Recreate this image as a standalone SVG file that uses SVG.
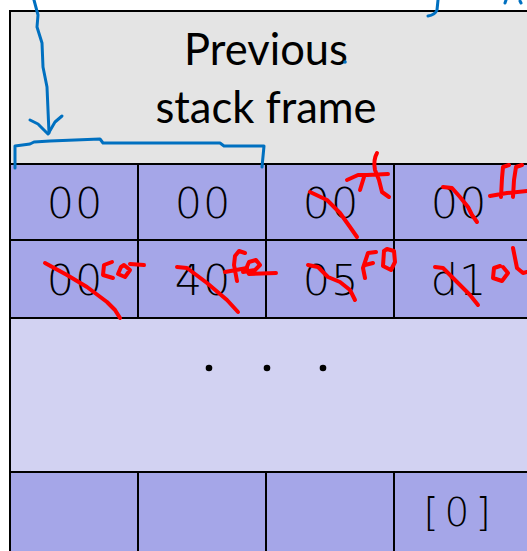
<svg xmlns="http://www.w3.org/2000/svg" width="527" height="551" viewBox="0 0 527 551">
  <style>
    .frame { fill: #e4e4e4; stroke: #000; stroke-width: 2; }
    .cell { fill: #a5a6e8; stroke: #000; stroke-width: 2; }
    .gap { fill: #d2d2f2; stroke: #000; stroke-width: 2; }
    .title { font-family: Lato, "Open Sans", sans-serif; font-size: 43.5px; fill: #000; text-anchor: middle; }
    .byte { font-family: "DejaVu Sans", sans-serif; font-weight: 200; font-size: 43px; fill: #000; text-anchor: middle; letter-spacing: 1px; }
    .blue { fill: none; stroke: #0070c0; stroke-width: 3; stroke-linecap: round; stroke-linejoin: round; }
    .red { fill: none; stroke: #ff0000; stroke-width: 4; stroke-linecap: round; stroke-linejoin: round; }
  </style>
  <rect width="527" height="551" fill="#ffffff"/>

  <!-- caller's frame -->
  <g id="previous-frame">
    <rect class="frame" x="10" y="11" width="530" height="153"/>
    <text class="title" x="266" y="65">Previous</text>
    <text class="title" x="266" y="123">stack frame</text>
  </g>

  <!-- first row of bytes -->
  <g id="row1">
    <rect class="cell" x="10" y="164" width="128" height="76"/>
    <rect class="cell" x="138" y="164" width="128" height="76"/>
    <rect class="cell" x="266" y="164" width="128" height="76"/>
    <rect class="cell" x="394" y="164" width="146" height="76"/>
    <text class="byte" x="75" y="218">00</text>
    <text class="byte" x="203" y="218">00</text>
    <text class="byte" x="331" y="218">00</text>
    <text class="byte" x="459" y="218">00</text>
  </g>

  <!-- second row of bytes -->
  <g id="row2">
    <rect class="cell" x="10" y="240" width="128" height="78"/>
    <rect class="cell" x="138" y="240" width="128" height="78"/>
    <rect class="cell" x="266" y="240" width="128" height="78"/>
    <rect class="cell" x="394" y="240" width="146" height="78"/>
    <text class="byte" x="75" y="295">00</text>
    <text class="byte" x="203" y="295">40</text>
    <text class="byte" x="331" y="295">05</text>
    <text class="byte" x="459" y="295">d1</text>
  </g>

  <!-- elided middle of the buffer -->
  <g id="ellipsis">
    <rect class="gap" x="10" y="318" width="530" height="154"/>
    <circle cx="209" cy="368" r="3.3" fill="#000"/>
    <circle cx="267" cy="368" r="3.3" fill="#000"/>
    <circle cx="323" cy="368" r="3.3" fill="#000"/>
  </g>

  <!-- lowest row, buffer start -->
  <g id="row-last">
    <rect class="cell" x="10" y="472" width="128" height="90"/>
    <rect class="cell" x="138" y="472" width="128" height="90"/>
    <rect class="cell" x="266" y="472" width="128" height="90"/>
    <rect class="cell" x="394" y="472" width="146" height="90"/>
    <text class="byte" x="460" y="526" style="font-size:39px;letter-spacing:6px">[0]</text>
  </g>

  <!-- blue pen: arrow into bracket over first two bytes -->
  <g id="connectors">
    <path class="blue" d="M34,0 L38,15 L37,27 L42,43 L43,67 L47,87 L48,110 L49,133"/>
    <path class="blue" d="M30,120 L38,124 L48,134 L55,122 L62,116"/>
    <path class="blue" d="M15,168 L15,146 L30,144 L34,142 L50,141 L100,139 L103,143 L220,143 L224,146 L264,146 L262,167"/>
    <path class="blue" d="M438,0 L437,10 Q435,15 428,16"/>
    <path class="blue" d="M506,0 L505,3"/>
    <path class="blue" d="M520,1 L521,3"/>
    <circle cx="345" cy="62" r="1.8" fill="#0070c0"/>
  </g>

  <!-- red pen: overwritten byte values -->
  <g id="overwrites">
    <!-- 00 -> 7f -->
    <path class="red" d="M310,192 L327,200 L340,213 L350,227 L357,237"/>
    <path class="red" d="M347,180 L358,175 L367,175 M364,177 L360,190"/>
    <path class="red" d="M377,153 Q373,160 375,170 L379,180 L382,192 L389,197 M367,175 L388,174"/>
    <!-- 00 -> ff -->
    <path class="red" d="M443,187 L452,188 L460,197 L468,207 L472,215 L477,222"/>
    <path class="red" d="M509,165 L503,167 L502,178 L501,197 M490,196 L507,193 L527,191 M522,165 L516,167 L514,180 L513,197"/>
    <!-- 00 -> c0 -->
    <path class="red" d="M45,263 L67,275 L87,287 L107,302 L115,310 L120,318"/>
    <path class="red" d="M112,262 L104,265 L103,275 L113,278 M121,267 L118,274 L125,277 L130,270 L124,265 L121,267 M130,264 L144,265"/>
    <!-- 40 -> fe -->
    <path class="red" d="M177,267 L187,268 L207,283 L227,300 L238,312"/>
    <path class="red" d="M245,253 L239,251 L235,256 L234,265 L237,281 M225,272 L247,268"/>
    <path class="red" d="M243,272 L255,270 L260,265 L256,260 L249,262 L246,269 L249,274 L276,273"/>
    <!-- 05 -> f0 -->
    <path class="red" d="M308,265 L318,267 L328,277 L340,282 L350,290 L355,300"/>
    <path class="red" d="M376,252 L368,253 L363,268 L365,278 M365,265 L373,263"/>
    <path class="red" d="M384,251 L383,266 L391,270 L395,262 L394,251 L387,249 L384,251"/>
    <!-- d1 -> cd -->
    <path class="red" d="M435,267 L443,268 L457,282 L470,295 L478,305"/>
    <path class="red" d="M500,266 L494,268 L493,278 L502,281 L508,273 L503,267 M513,248 L517,268 L523,273 L527,272"/>
  </g>
</svg>
